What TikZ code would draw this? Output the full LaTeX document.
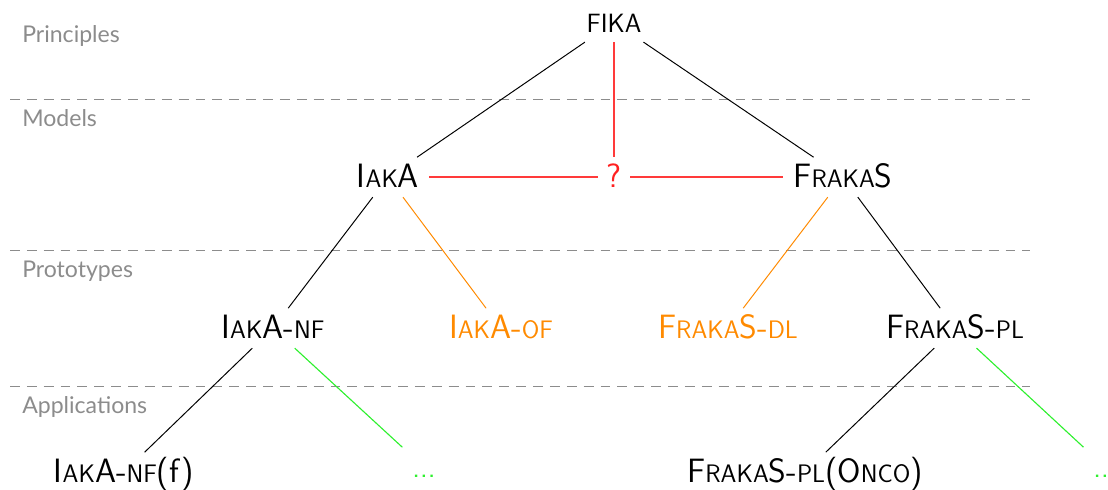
\documentclass[tikz,border=0pt]{standalone}
\usepackage{fontspec}
\newfontfamily\labelfont{Lato}
\definecolor{lblgray}{HTML}{8C8C8C}
\definecolor{dashgray}{HTML}{8C8C8C}
\definecolor{myred}{HTML}{FF2020}
\definecolor{redline}{HTML}{FF3A3A}
\definecolor{myorange}{HTML}{FF8A00}
\definecolor{mygreen}{HTML}{2EF02E}
\newcommand\bigsz{\fontsize{24}{28}\selectfont}
\newcommand\smc[1]{{\fontsize{18}{21}\selectfont #1}}
\begin{document}
\begin{tikzpicture}[x=0.025cm,y=-0.025cm,
  mn/.style={font=\sffamily\bigsz, anchor=base, text height=17pt, text depth=3pt, inner xsep=7pt, inner ysep=4pt},
  lvl/.style={font=\labelfont\fontsize{16.4}{19}\selectfont, text=lblgray, anchor=base west, inner sep=0pt},
  sepline/.style={draw=dashgray, dashed, dash pattern=on 7pt off 5pt, line width=0.6pt},
  conn/.style={line width=0.7pt},
  rconn/.style={conn, draw=redline, line width=1pt},
  oconn/.style={conn, draw=myorange},
  gconn/.style={conn, draw=mygreen, line width=0.8pt}]
\useasboundingbox (0,0) rectangle (1108,489);
% level separators
\coordinate (s1a) at (10,99); \coordinate (s1b) at (1030,99);
\coordinate (s2a) at (10,250); \coordinate (s2b) at (1030,250);
\coordinate (s3a) at (10,386); \coordinate (s3b) at (1030,386);
\draw[sepline] (s1a) -- (s1b);
\draw[sepline] (s2a) -- (s2b);
\draw[sepline] (s3a) -- (s3b);
% level labels
\node[lvl] (lp) at (22,42) {Principles};
\node[lvl] (lm) at (22,126) {Models};
\node[lvl] (lt) at (22,277) {Prototypes};
\node[lvl] (la) at (22,413) {Applications};
% nodes
\node[mn] (fika) at (614,32) {\fontsize{18.8}{22}\selectfont FIKA};
\node[mn] (iaka) at (388,187) {I\smc{AK}A};
\node[mn, text=myred, inner xsep=6pt] (q) at (614,187) {?};
\node[mn] (fraka) at (843,187) {F\smc{RAKA}S};
\node[mn] (iakanf) at (273,338) {I\smc{AK}A-\smc{NF}};
\node[mn, text=myorange] (iakaof) at (501,338) {I\smc{AK}A-\smc{OF}};
\node[mn, text=myorange] (frakadl) at (728,338) {F\smc{RAKA}S-\smc{DL}};
\node[mn] (frakapl) at (955,338) {F\smc{RAKA}S-\smc{PL}};
\node[mn] (iakanff) at (124,482) {I\smc{AK}A-\smc{NF}(f)};
\node[mn, text=mygreen, font=\sffamily\fontsize{21}{24}\selectfont] (dots1) at (424,477) {...};
\node[mn] (frakaonco) at (805,482) {F\smc{RAKA}S-\smc{PL}(O\smc{NCO})};
\node[mn, text=mygreen, font=\sffamily\fontsize{21}{24}\selectfont] (dots2) at (1105,477) {...};
% edges
\draw[conn] (fika) -- (iaka);
\draw[conn] (fika) -- (fraka);
\draw[rconn] (fika) -- (q);
\draw[rconn] (iaka) -- (q);
\draw[rconn] (q) -- (fraka);
\draw[conn] (iaka) -- (iakanf);
\draw[oconn] (iaka) -- (iakaof);
\draw[oconn] (fraka) -- (frakadl);
\draw[conn] (fraka) -- (frakapl);
\draw[conn] (iakanf) -- (iakanff);
\draw[gconn] (iakanf) -- (dots1);
\draw[conn] (frakapl) -- (frakaonco);
\draw[gconn] (frakapl) -- (dots2);
\end{tikzpicture}
\end{document}
